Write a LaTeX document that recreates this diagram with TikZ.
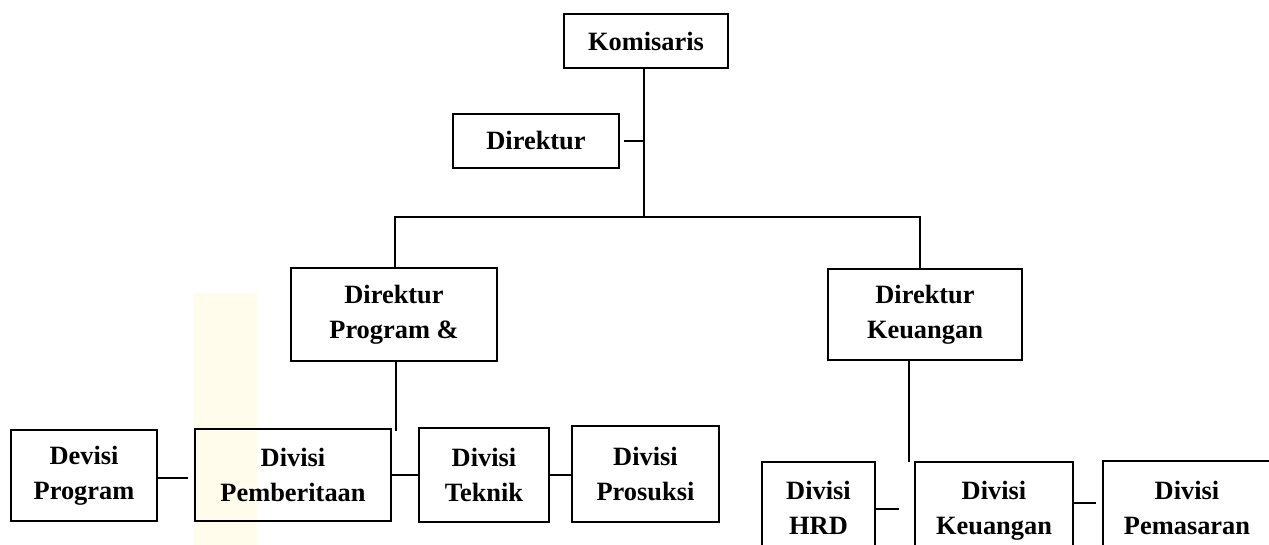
\documentclass[tikz,border=0pt]{standalone}
\usepackage{fontspec}
\setmainfont{Liberation Serif}
\usepackage{tikz}

\tikzset{
  orgbox/.style={draw, line width=1pt, inner sep=0pt, align=center,
    font=\bfseries\fontsize{13.2}{17.5}\selectfont},
  link/.style={line width=1pt}
}

\begin{document}
\begin{tikzpicture}[x=0.5pt, y=-0.5pt]
        \useasboundingbox (0,0) rectangle (1269,545);
        \clip (0,0) rectangle (1269,545);

        % Pale strip behind the boxes
        \fill[color={rgb,255:red,255;green,252;blue,236}] (193,293) rectangle (257,560);

        % Top level
        \node[orgbox, minimum width=82pt, minimum height=27pt] (kom) at (646,41) {Komisaris};
        \node[orgbox, minimum width=83pt, minimum height=27pt] (dir) at (536,141) {Direktur};

        % Directors
        \node[orgbox, minimum width=103pt, minimum height=46.5pt] (dirprog) at (394,314.5) {Direktur\\Program \&};
        \node[orgbox, minimum width=97pt, minimum height=45.5pt] (dirkeu) at (925,314.5) {Direktur\\Keuangan};

        % Divisions
        \node[orgbox, minimum width=73pt, minimum height=45.5pt] (devprog) at (84,475.5) {Devisi\\Program};
        \node[orgbox, minimum width=98pt, minimum height=46pt] (pemb) at (293,475) {Divisi\\Pemberitaan};
        \node[orgbox, minimum width=65pt, minimum height=47pt] (teknik) at (484,475) {Divisi\\Teknik};
        \node[orgbox, minimum width=73.5pt, minimum height=48pt] (prosuksi) at (645.5,474) {Divisi\\Prosuksi};
        \node[orgbox, minimum width=56.5pt, minimum height=49pt] (hrd) at (818.5,511) {Divisi\\HRD\vphantom{g}};
        \node[orgbox, minimum width=79pt, minimum height=49pt] (keu) at (994,511) {Divisi\\Keuangan};
        \node[orgbox, minimum width=84pt, minimum height=50pt] (pemas) at (1187,511) {Divisi\\Pemasaran\vphantom{g}};

        % Lines
        \coordinate (bar) at (644,217);
        \coordinate (progend) at (396,431);
        \coordinate (keuend) at (909,462);
        \draw[link] (bar |- kom.south) -- (bar);
        \draw[link, shorten <=2pt] (dir.east) -- (dir.east -| bar);
        \draw[link] ([xshift=0.5pt]dirprog.north) |- (bar) -| ([xshift=-2.5pt]dirkeu.north);
        \draw[link] (progend |- dirprog.south) -- (progend);
        \draw[link] (keuend |- dirkeu.south) -- (keuend);
        \draw[link, shorten >=3pt] ([yshift=-1pt]devprog.east) -- ([yshift=-1pt]devprog.east -| pemb.west);
        \draw[link] (pemb.east) -- (teknik.west);
        \draw[link] (teknik.east) -- (teknik.east -| prosuksi.west);
        \draw[link, shorten >=7.5pt] ([yshift=1pt]hrd.east) -- ([yshift=1pt]hrd.east -| keu.west);
        \draw[link, shorten >=3pt] ([yshift=4pt]keu.east) -- ([yshift=4pt]keu.east -| pemas.west);
    \end{tikzpicture}
\end{document}
